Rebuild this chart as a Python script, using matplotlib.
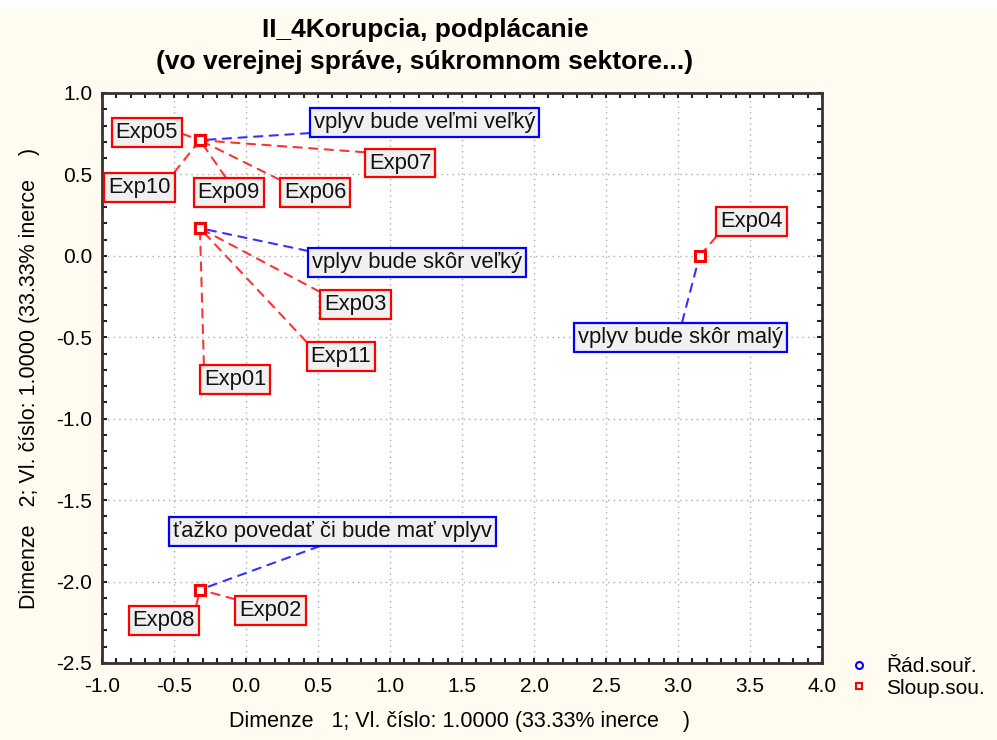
import matplotlib
matplotlib.use("Agg")
import matplotlib.pyplot as plt
from matplotlib.lines import Line2D
from matplotlib.patches import Rectangle
from matplotlib.ticker import MultipleLocator

plt.rcParams["font.family"] = ["Liberation Sans", "DejaVu Sans"]

# row points (answer categories)
row_labels = ["vplyv bude veľmi veľký", "vplyv bude skôr veľký",
              "vplyv bude skôr malý", "ťažko povedať či bude mať vplyv"]
row_dim1 = [-0.32, -0.32, 3.15, -0.32]
row_dim2 = [0.71, 0.17, 0.00, -2.05]

# column points (experts)
col_labels = ["Exp01", "Exp02", "Exp03", "Exp04", "Exp05", "Exp06",
              "Exp07", "Exp08", "Exp09", "Exp10", "Exp11"]
col_dim1 = [-0.32, -0.32, -0.32, 3.15, -0.32, -0.32, -0.32, -0.32, -0.32, -0.32, -0.32]
col_dim2 = [0.17, -2.05, 0.17, 0.00, 0.71, 0.71, 0.71, -2.05, 0.71, 0.71, 0.17]

# where the label boxes were placed (data coords)
row_label_pos = [(1.24, 0.82), (1.19, -0.04), (3.02, -0.50), (0.60, -1.69)]
col_label_pos = [(-0.075, -0.76), (0.17, -2.18), (0.76, -0.30), (3.51, 0.21),
                 (-0.69, 0.76), (0.48, 0.39), (1.07, 0.57), (-0.57, -2.24),
                 (-0.12, 0.39), (-0.74, 0.42), (0.66, -0.62)]

xlabel = "Dimenze   1; Vl. číslo: 1.0000 (33.33% inerce    )"
ylabel = "Dimenze   2; Vl. číslo: 1.0000 (33.33% inerce    )"
title1 = "II_4Korupcia, podplácanie"
title2 = "(vo verejnej správe, súkromnom sektore...)"

W, H = 997, 740
fig = plt.figure(figsize=(W / 100, H / 100), dpi=100, facecolor="#fffbf0")
fig.patches.append(Rectangle((0, 1 - 8 / H), 1, 8 / H, transform=fig.transFigure,
                             color="white", zorder=-1))
ax = fig.add_axes([102 / W, 1 - 663 / H, 720 / W, 570 / H])
ax.set_facecolor("white")

ax.set_xlim(-1.0, 4.0)
ax.set_ylim(-2.5, 1.0)
ax.xaxis.set_major_locator(MultipleLocator(0.5))
ax.yaxis.set_major_locator(MultipleLocator(0.5))
ax.xaxis.set_minor_locator(MultipleLocator(0.1))
ax.yaxis.set_minor_locator(MultipleLocator(0.1))
ax.xaxis.set_major_formatter(lambda v, p: f"{v:.1f}")
ax.yaxis.set_major_formatter(lambda v, p: f"{v:.1f}")
ax.tick_params(which="both", direction="in", top=True, right=True,
               length=3.5, width=1.5, color="#222222")
ax.tick_params(axis="x", labelsize=15, pad=10)
ax.tick_params(axis="y", labelsize=15, pad=7)
ax.grid(True, which="major", linestyle=(0, (1, 3)), color="#aaaaaa", lw=1)
for s in ax.spines.values():
    s.set_color("#333333")
    s.set_linewidth(2)

ax.set_xlabel(xlabel, fontsize=15.5)
ax.xaxis.set_label_coords(0.497, -(722 - 663) / 570)
ax.xaxis.label.set_va("center")
ax.set_ylabel(ylabel, fontsize=15.5)
ax.yaxis.set_label_coords(-(102 - 30) / 720, 0.5)
ax.yaxis.label.set_va("center")

dash = (0, (4, 3.5))
anns = []
for names, xs, ys, positions, edge, line in [
        (row_labels, row_dim1, row_dim2, row_label_pos, "#0000ff", "#3333ff"),
        (col_labels, col_dim1, col_dim2, col_label_pos, "#ff0000", "#ff3333")]:
    for name, x, y, pos in zip(names, xs, ys, positions):
        a = ax.annotate(name, xy=(x, y), xytext=pos, textcoords="data",
                        ha="center", va="center", fontsize=15.8, color="#111111",
                        bbox=dict(boxstyle="square,pad=0.18", fc="#f0f0f0", ec=edge, lw=1.6),
                        arrowprops=dict(arrowstyle="-", color=line, linestyle=dash, lw=1.5,
                                        shrinkA=0, shrinkB=0),
                        zorder=4, annotation_clip=False)
        anns.append((a, x, y))

ax.plot(row_dim1, row_dim2, "o", ms=6, mfc="none", mec="#0000ff", mew=1.5, zorder=5)
ax.plot(col_dim1, col_dim2, "s", ms=7, mfc="white", mec="#ff0000", mew=2.2, zorder=6)

fig.text(425 / W, 1 - 30 / H, title1, ha="center", va="center",
         fontsize=19, fontweight="bold")
fig.text(425 / W, 1 - 62 / H, title2, ha="center", va="center",
         fontsize=19, fontweight="bold")

handles = [Line2D([], [], ls="none", marker="o", ms=5, mfc="none", mec="#0000ff", mew=1.5),
           Line2D([], [], ls="none", marker="s", ms=5, mfc="none", mec="#ff0000", mew=1.5)]
fig.legend(handles, ["Řád.souř.", "Sloup.sou."], loc="upper left",
           bbox_to_anchor=(840 / W, 1 - 647 / H), frameon=False, fontsize=15,
           handlelength=0.8, handletextpad=0.9, labelspacing=0.1, borderpad=0)

# leader lines go to the corner / edge middle of the box that faces the point
fig.canvas.draw()
for a, x, y in anns:
    bb = a.get_bbox_patch().get_window_extent()
    px, py = ax.transData.transform((x, y))
    rx = 0.0 if px < bb.x0 + 2 else (1.0 if px > bb.x1 - 2 else 0.5)
    ry = 0.0 if py < bb.y0 else (1.0 if py > bb.y1 else 0.5)
    a._arrow_relpos = (rx, ry)

fig.savefig("out.png", dpi=100, facecolor=fig.get_facecolor())
